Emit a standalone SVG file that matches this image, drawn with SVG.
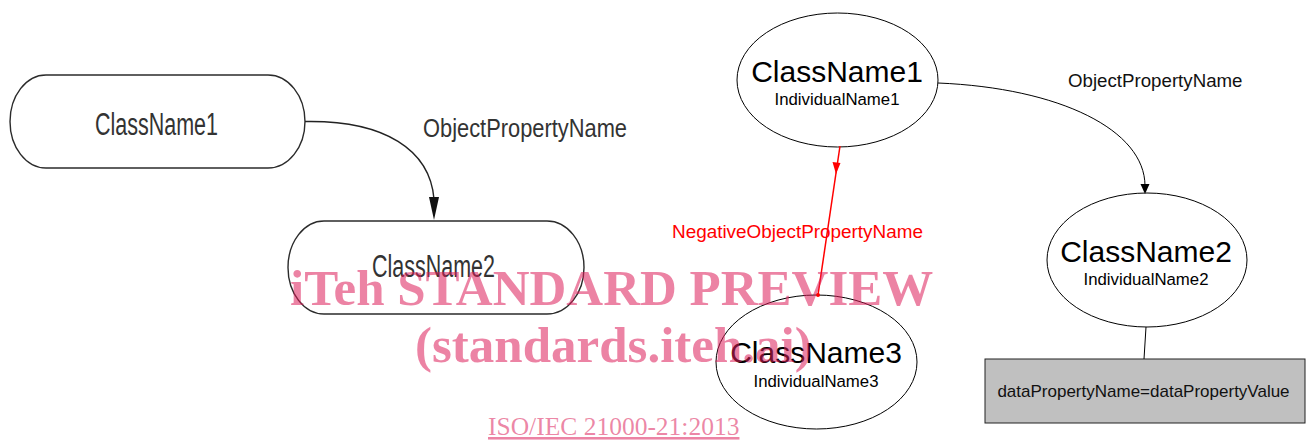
<svg xmlns="http://www.w3.org/2000/svg" width="1309" height="442" viewBox="0 0 1309 442">
<style>
.lnode{fill:#fff;stroke:#2b2b2b;stroke-width:1.4}
.ltxt{font-family:"Liberation Sans",Arial,sans-serif;fill:#333;text-anchor:middle}
.ell{fill:#fff;stroke:#000;stroke-width:1}
.big{font-family:"Liberation Sans",Arial,sans-serif;font-size:30px;fill:#000;text-anchor:middle}
.small{font-family:"Liberation Sans",Arial,sans-serif;font-size:16.8px;fill:#000;text-anchor:middle}
.lbl{font-family:"Liberation Sans",Arial,sans-serif;font-size:18.7px;fill:#111}
.edge{fill:none;stroke:#000;stroke-width:1}
.wm{font-family:"Liberation Serif","Times New Roman",serif;fill:#dc1e5a;fill-opacity:0.55}
</style>
<rect width="1309" height="442" fill="#fff"/>
<g id="left-class1">
<path class="lnode" d="M46,75 H268 A37,46.5 0 0 1 268,168 H46 A36,46.5 0 0 1 46,75 Z"/>
<text class="ltxt" x="156.5" y="135" font-size="31" textLength="123" lengthAdjust="spacingAndGlyphs">ClassName1</text>
</g>
<g id="left-class2">
<path class="lnode" d="M324,221 H547 A37,46.5 0 0 1 547,314 H324 A36,46.5 0 0 1 324,221 Z"/>
<text class="ltxt" x="433.5" y="277" font-size="31" textLength="123" lengthAdjust="spacingAndGlyphs">ClassName2</text>
</g>
<g id="r-class1">
<ellipse class="ell" cx="837.5" cy="80" rx="100.5" ry="67"/>
<text class="big" x="837" y="82">ClassName1</text>
<text class="small" x="837" y="105">IndividualName1</text>
</g>
<g id="r-class2">
<ellipse class="ell" cx="1147" cy="260" rx="100" ry="67"/>
<text class="big" x="1146" y="262">ClassName2</text>
<text class="small" x="1146" y="285">IndividualName2</text>
</g>
<g id="r-class3">
<ellipse class="ell" cx="816.5" cy="362" rx="100.5" ry="67"/>
<text class="big" x="816" y="363">ClassName3</text>
<text class="small" x="816" y="387">IndividualName3</text>
</g>
<g id="r-data">
<rect x="985" y="359" width="320" height="64" fill="#c0c0c0" stroke="#222" stroke-width="1"/>
<text x="1143.5" y="397" font-family="'Liberation Sans',Arial,sans-serif" font-size="17" fill="#111" text-anchor="middle">dataPropertyName=dataPropertyValue</text>
</g>
<g id="connectors">
<path d="M305,121.5 C385,120 430,150 434,199" fill="none" stroke="#222" stroke-width="1.4"/>
<polygon points="434,220 429,197 439,197" fill="#111"/>
<text class="ltxt" x="525" y="137" font-size="26" textLength="204" lengthAdjust="spacingAndGlyphs">ObjectPropertyName</text>
<path class="edge" d="M938,83 C1060,88 1145,130 1145,186"/>
<polygon points="1145,194 1140.5,184 1149.5,184" fill="#000"/>
<text class="lbl" x="1068" y="87">ObjectPropertyName</text>
<line x1="1146" y1="327" x2="1144" y2="359" stroke="#000" stroke-width="1"/>
<line x1="840" y1="146" x2="818" y2="295" stroke="#f00" stroke-width="1.5"/>
<polygon points="836,174 832.5,162 840.5,163" fill="#f00"/>
<circle cx="818" cy="295" r="2" fill="#f00"/>
<text x="672" y="238" font-family="'Liberation Sans',Arial,sans-serif" font-size="18.9" fill="#f00">NegativeObjectPropertyName</text>
</g>
<g id="watermark">
<text class="wm" x="290" y="305" font-size="51" font-weight="bold">iTeh STANDARD PREVIEW</text>
<text class="wm" x="415" y="362" font-size="51" font-weight="bold">(standards.iteh.ai)</text>
<text class="wm" x="488" y="435" font-size="25.5" text-decoration="underline">ISO/IEC 21000-21:2013</text>
</g>
</svg>
